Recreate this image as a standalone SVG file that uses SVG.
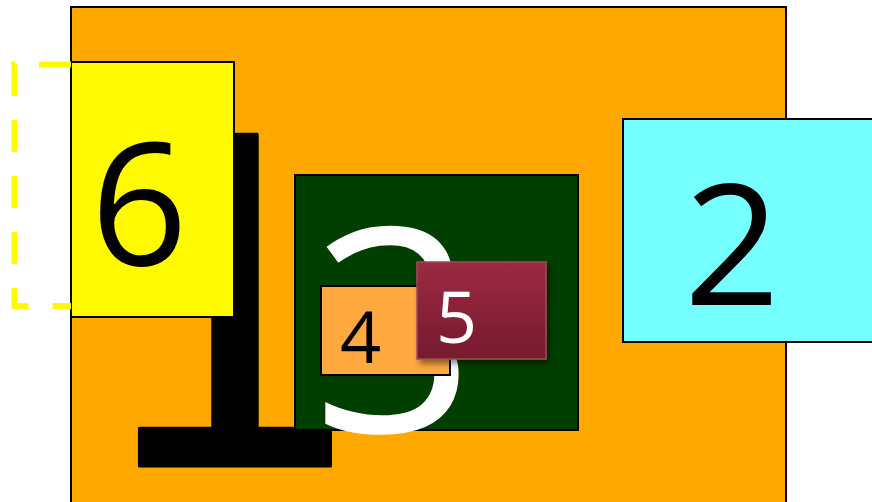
<svg xmlns="http://www.w3.org/2000/svg" width="872" height="502" viewBox="0 0 872 502">
<defs>
<linearGradient id="g5" x1="0" y1="0" x2="0" y2="1">
<stop offset="0" stop-color="#9b2a42"/>
<stop offset="1" stop-color="#761a2e"/>
</linearGradient>
<filter id="sh" x="-20%" y="-20%" width="150%" height="150%">
<feDropShadow dx="3" dy="4" stdDeviation="3" flood-color="#000" flood-opacity="0.45"/>
</filter>
</defs>
<style>
.box{stroke:#000;stroke-width:2}
.lbl{font-family:"Open Sans","Liberation Sans",sans-serif;text-anchor:middle}
</style>
<g id="node1">
<rect class="box" x="71" y="7" width="715" height="520" fill="#FFA800"/>
<text x="83" y="466" font-family="DejaVu Sans, sans-serif" font-size="455" fill="#000" stroke="#000" stroke-width="3" stroke-linejoin="round">1</text>
</g>
<g id="node6">
<rect class="box" x="71" y="62" width="163" height="255" fill="#FFFA00"/>
<text class="lbl" x="139" y="265" font-size="170" fill="#000">6</text>
</g>
<g id="connectors">
<path d="M71,64.5 H14.5 V306 H71" fill="none" stroke="#FFFA00" stroke-width="6" stroke-dasharray="32,24"/>
</g>
<g id="node3">
<rect class="box" x="295" y="175" width="283" height="255" fill="#003F00"/>
<text class="lbl" x="394" y="432" font-size="285" fill="#fff">3</text>
</g>
<g id="node4">
<rect class="box" x="321" y="286" width="129" height="89" fill="#FFA940"/>
<text class="lbl" x="360.5" y="363" font-size="72" fill="#000">4</text>
</g>
<g id="node5">
<rect x="417" y="262" width="129" height="97" fill="url(#g5)" stroke="#a34a5a" stroke-width="1.5" filter="url(#sh)"/>
<text class="lbl" x="456.5" y="343" font-size="72" fill="#fff">5</text>
</g>
<g id="node2">
<rect class="box" x="623" y="119" width="270" height="223" fill="#75FFFF"/>
<text class="lbl" x="732" y="305" font-size="168" fill="#000">2</text>
</g>
</svg>
